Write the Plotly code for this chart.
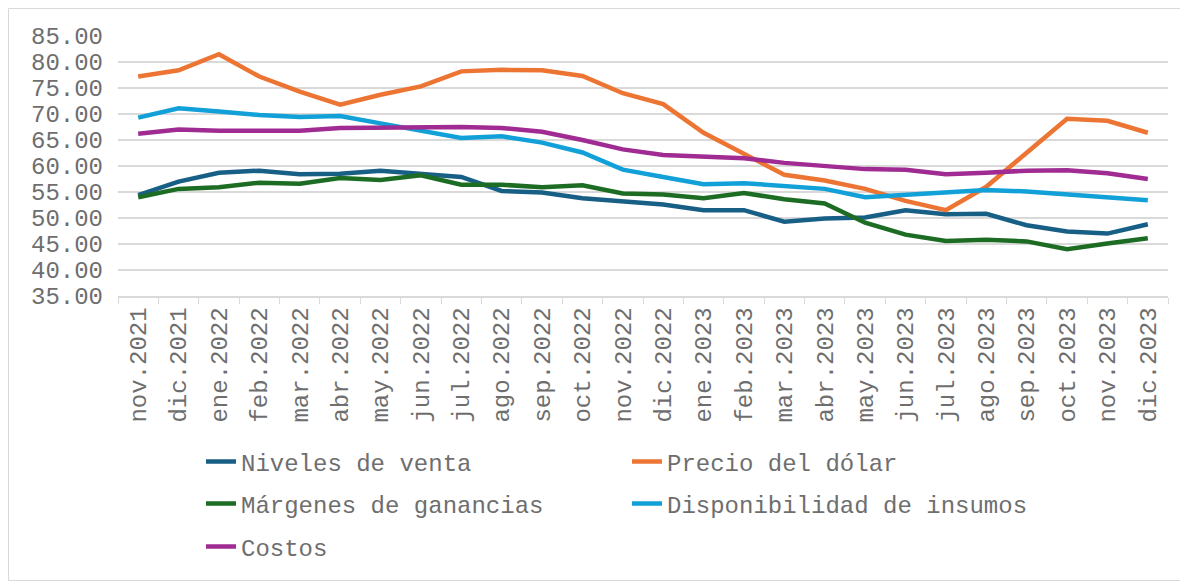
import plotly.graph_objects as go

meses = ["nov.2021", "dic.2021", "ene.2022", "feb.2022", "mar.2022", "abr.2022",
         "may.2022", "jun.2022", "jul.2022", "ago.2022", "sep.2022", "oct.2022",
         "nov.2022", "dic.2022", "ene.2023", "feb.2023", "mar.2023", "abr.2023",
         "may.2023", "jun.2023", "jul.2023", "ago.2023", "sep.2023", "oct.2023",
         "nov.2023", "dic.2023"]

niveles_venta = [54.4, 57.0, 58.7, 59.1, 58.4, 58.5, 59.1, 58.5, 57.9, 55.2, 54.9, 53.8, 53.3,
                 52.6, 51.5, 51.5, 49.3, 49.9, 50.1, 51.5, 50.7, 50.8, 48.6, 47.4, 47.0, 48.8]
precio_dolar = [77.2, 78.4, 81.5, 77.2, 74.3, 71.8, 73.7, 75.3, 78.2, 78.5, 78.4, 77.3, 74.0,
                71.9, 66.4, 62.4, 58.3, 57.2, 55.6, 53.3, 51.5, 56.0, 62.5, 69.1, 68.7, 66.4]
margenes = [54.0, 55.6, 55.9, 56.8, 56.6, 57.7, 57.3, 58.2, 56.4, 56.4, 55.9, 56.3, 54.7,
            54.5, 53.8, 54.8, 53.6, 52.8, 49.1, 46.8, 45.6, 45.8, 45.5, 44.0, 45.1, 46.1]
disponibilidad = [69.3, 71.1, 70.5, 69.8, 69.4, 69.6, 68.2, 66.9, 65.4, 65.7, 64.5, 62.6, 59.3,
                  57.9, 56.5, 56.7, 56.1, 55.6, 54.0, 54.4, 54.8, 55.4, 55.1, 54.6, 54.0, 53.4]
costos = [66.2, 67.0, 66.8, 66.9, 66.8, 67.3, 67.4, 67.6, 67.5, 67.3, 66.6, 65.0, 63.2,
          62.1, 61.8, 61.5, 60.6, 59.9, 59.4, 59.3, 58.4, 58.7, 59.1, 59.2, 58.6, 57.5]

series = [
    ("Niveles de venta", niveles_venta, "#185F86", "legend"),
    ("Precio del dólar", precio_dolar, "#ED7533", "legend"),
    ("Márgenes de ganancias", margenes, "#1D6C24", "legend2"),
    ("Disponibilidad de insumos", disponibilidad, "#12A0D8", "legend2"),
    ("Costos", costos, "#A02B93", "legend3"),
]

FONT = "Liberation Mono, Courier New, monospace"
GRAY = "#6E6E6E"
FS = 24
W, H = 1180, 573
L, T, PW, PH = 110, 28, 1050, 260

fig = go.Figure()
for name, vals, color, lg in series:
    fig.add_trace(go.Scatter(x=meses, y=vals, name=name, mode="lines",
                             line=dict(color=color, width=4.5), legend=lg))

leg_common = dict(orientation="h", xref="container", yref="container",
                  xanchor="left", yanchor="middle", entrywidth=381,
                  font=dict(family=FONT, size=FS, color=GRAY),
                  bgcolor="rgba(0,0,0,0)")

fig.update_layout(
    width=W, height=H,
    margin=dict(l=L, r=W - L - PW, t=T, b=H - T - PH, autoexpand=False),
    paper_bgcolor="white", plot_bgcolor="white",
    font=dict(family=FONT, size=FS, color=GRAY),
    showlegend=True,
    legend=dict(x=193 / W, y=1 - 454 / H, **leg_common),
    legend2=dict(x=193 / W, y=1 - 496 / H, **leg_common),
    legend3=dict(x=193 / W, y=1 - 539 / H, **leg_common),
    xaxis=dict(type="category", range=[-0.5, 25.5], tickangle=-90,
               showgrid=False, showline=True, linecolor="#D9D9D9", linewidth=1.5,
               ticks="outside", ticklen=6, tickcolor="#D9D9D9", tickson="boundaries",
               automargin=False,
               tickfont=dict(family=FONT, size=FS, color=GRAY)),
    yaxis=dict(range=[35, 85], dtick=5, tick0=35, tickformat=".2f",
               showgrid=True, gridcolor="#D9D9D9", gridwidth=1.5, automargin=False,
               zeroline=False, showline=False, ticks="", ticklabelstandoff=14,
               tickfont=dict(family=FONT, size=FS, color=GRAY)),
    shapes=[dict(type="rect", xref="paper", yref="paper",
                 x0=(0.5 - L) / PW, x1=(W - 0.5 - L) / PW,
                 y0=(T + PH - (H - 0.5)) / PH, y1=(T + PH - 0.5) / PH,
                 line=dict(color="#D9D9D9", width=1), layer="below")],
)

fig.write_html("out.html")
